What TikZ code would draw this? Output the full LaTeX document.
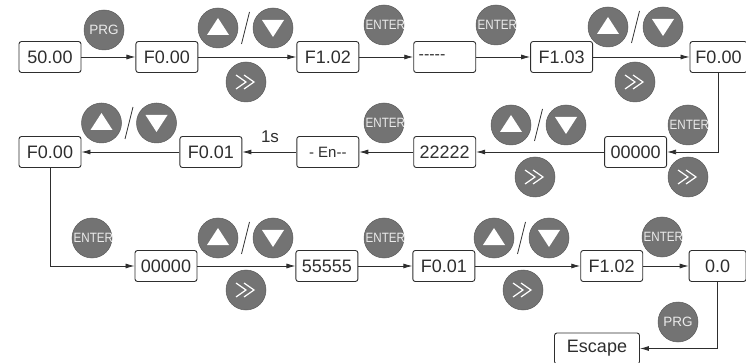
\documentclass[tikz,border=0pt]{standalone}
\usepackage{fontspec}
\setmainfont{Liberation Sans}
\newfontfamily\narrowfont[FakeStretch=0.86]{Liberation Sans}
\usetikzlibrary{arrows.meta, positioning}
\definecolor{keygray}{HTML}{737373}
\definecolor{keyedge}{HTML}{5C5C5C}
\definecolor{keytext}{HTML}{EBEBEB}
\definecolor{boxline}{HTML}{2E2E2E}

\begin{document}
\begin{tikzpicture}[x=1pt, y=-1pt, node distance=54pt,
        box/.style={rectangle, draw=boxline, line width=0.9pt, rounded corners=2.5pt, minimum width=62pt, minimum height=31pt, inner sep=0pt, font=\fontsize{18}{18}\selectfont, text=boxline},
        narrow/.style={box, minimum width=57pt},
        keycap/.style={circle, fill=keygray, draw=keyedge, line width=0.5pt, minimum size=40pt, inner sep=0pt},
        keylabel/.style={text=keytext, font=\fontsize{13.5}{13.5}\selectfont, inner sep=0pt},
        line/.style={draw=boxline, line width=0.8pt, -{Latex[length=9pt, width=5pt]}},
        pics/prgkey/.style={code={\node[keycap, keylabel] (-k) {PRG};}},
        pics/enterkey/.style={code={
            \node[keycap] (-k) {};
            \begin{scope}
                \clip (0,0) circle (20pt);
                \node[keylabel, font=\narrowfont\fontsize{13.5}{13.5}\selectfont, anchor=west] (-t) at (-18.5,0) {ENTER};
            \end{scope}}},
        pics/shiftkey/.style={code={
            \node[keycap] (-k) {};
            \draw[white, line width=1.2pt] (-10,-7) -- (0,0) -- (-10,7) (-2,-7) -- (8,0) -- (-2,7);}},
        pics/updown/.style={code={
            \node[keycap] (-up) at (-27.5,0) {};
            \node[keycap] (-dn) at (27.5,0) {};
            \fill[white] (-27.5,-10) -- (-38.5,7) -- (-16.5,7) -- cycle;
            \fill[white] (16.5,-8) -- (38.5,-8) -- (27.5,9) -- cycle;
            \draw[boxline, line width=0.8pt] (-4,16) -- (4,-16);}}]

        \useasboundingbox (0,0) rectangle (746,363);

        % first row
        \node [box] (v1) at (50,57) {50.00};
        \node [box, right=of v1] (p1) {F0.00};
        \node [box, right=98pt of p1] (p2) {F1.02};
        \node [box, right=of p2, text width=52pt, align=left, font=\fontsize{16}{16}\selectfont] (p3) {-{}-{}-{}-{}-};
        \node [box, right=of p3] (p4) {F1.03};
        \node [narrow, right=96.5pt of p4] (p5) {F0.00};

        % second row
        \node [box] (q1) at (50,152) {F0.00};
        \node [box, right=98pt of q1] (q2) {F0.01};
        \node [box, right=of q2, font=\fontsize{15}{15}\selectfont] (q3) {- En-{}-};
        \node [box, right=of q3] (q4) {22222};
        \node [box, right=128pt of q4] (q5) {00000};

        % third row
        \node [box] (r1) at (166,266) {00000};
        \node [box, right=98pt of r1] (r2) {55555};
        \node [box, right=of r2] (r3) {F0.01};
        \node [box, right=105pt of r3] (r4) {F1.02};
        \node [narrow, right=45.5pt of r4] (r5) {0.0};
        \node [box, minimum width=85pt] (esc) at (597,348.5) {Escape};

        \path [line] (v1) -- (p1);
        \path [line] (p1) -- (p2);
        \path [line] (p2) -- (p3);
        \path [line] (p3) -- (p4);
        \path [line] (p4) -- (p5);
        \path [line] (p5.south) |- (q5.east);
        \path [line] (q5) -- (q4);
        \path [line] (q4) -- (q3);
        \path [line] (q3) -- (q2);
        \path [line] (q2) -- (q1);
        \path [line] (q1.south) |- (r1.west);
        \path [line] (r1) -- (r2);
        \path [line] (r2) -- (r3);
        \path [line] (r3) -- (r4);
        \path [line] (r4) -- (r5);
        \path [line] (r5.south) |- (esc.east);

        \node [font=\fontsize{17}{17}\selectfont, text=boxline] (delay) at (270,137) {1s};

        % keys
        \pic (k1) at (104,30) {prgkey};
        \pic (k2) at (245.5,28) {updown};
        \pic (k3) at (246,82) {shiftkey};
        \pic (k4) at (384,25) {enterkey};
        \pic (k5) at (496,25) {enterkey};
        \pic (k6) at (635.5,27) {updown};
        \pic (k7) at (635,82) {shiftkey};

        \pic (k8) at (129,123) {updown};
        \pic (k9) at (384,123) {enterkey};
        \pic (k10) at (538.5,125) {updown};
        \pic (k11) at (535,177) {shiftkey};
        \pic (k12) at (688,125) {enterkey};
        \pic (k13) at (688,177) {shiftkey};

        \pic (k14) at (92,238) {enterkey};
        \pic (k15) at (245.5,238) {updown};
        \pic (k16) at (246,290) {shiftkey};
        \pic (k17) at (384,238) {enterkey};
        \pic (k18) at (521.5,238) {updown};
        \pic (k19) at (523,290) {shiftkey};
        \pic (k20) at (662,237) {enterkey};
        \pic (k21) at (678,322) {prgkey};
    \end{tikzpicture}
\end{document}
